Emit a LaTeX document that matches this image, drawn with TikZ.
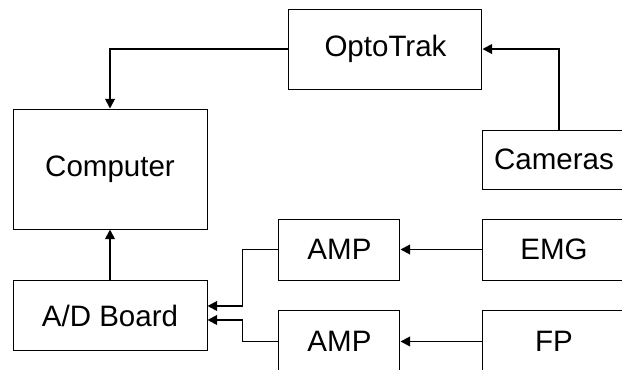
\documentclass[tikz,border=0pt]{standalone}
\usepackage{fontspec}
\setmainfont{Liberation Sans}
\usetikzlibrary{arrows.meta, positioning}

\begin{document}
\begin{tikzpicture}[
    node distance=1cm and 1cm,
    box/.style={rectangle, draw, line width=0.7pt, align=center, inner sep=0pt, font=\fontsize{21}{25}\selectfont},
    arrow/.style={-{Triangle[length=2.4mm, width=2.4mm]}, line width=1.3pt}
]
\useasboundingbox (0,0) rectangle (15.55,9.225);

% 1. Left column
\node[box, minimum width=4.85cm, minimum height=3.0cm] (computer) at (2.75,5.0) {Computer};
\node[box, minimum width=4.85cm, minimum height=1.75cm, below=1.275cm of computer] (adboard) {A/D Board};

% 2. Motion capture
\node[box, minimum width=4.825cm, minimum height=2.0cm, above right=0.475cm and 2.025cm of computer] (optotrak) {OptoTrak};
\node[box, minimum width=3.55cm, minimum height=1.475cm, below right=1.0cm and 0cm of optotrak] (cameras) {Cameras};

% 3. Amplifiers and sensors
\node[box, minimum width=3.025cm, minimum height=1.525cm, above right=0cm and 1.775cm of adboard] (amp1) {AMP};
\node[box, minimum width=3.025cm, minimum height=1.525cm, below=0.75cm of amp1] (amp2) {AMP};
\node[box, minimum width=3.55cm, minimum height=1.525cm, right=2.05cm of amp1] (emg) {EMG};
\node[box, minimum width=3.55cm, minimum height=1.525cm, right=2.05cm of amp2] (fp) {FP};

% 4. Connections
\draw[arrow] (optotrak.west) -| (computer.north);
\draw[arrow] ([xshift=0.125cm]cameras.north) |- (optotrak.east);
\draw[arrow] (adboard.north) -- (computer.south);
\draw[arrow] (emg.west) -- (amp1.east);
\draw[arrow] (fp.west) -- (amp2.east);
\draw[arrow] (amp1.west) -- ++(-0.9,0) |- ([yshift=0.25cm]adboard.east);
\draw[arrow] (amp2.west) -- ++(-0.9,0) |- ([yshift=-0.1cm]adboard.east);

\end{tikzpicture}
\end{document}
